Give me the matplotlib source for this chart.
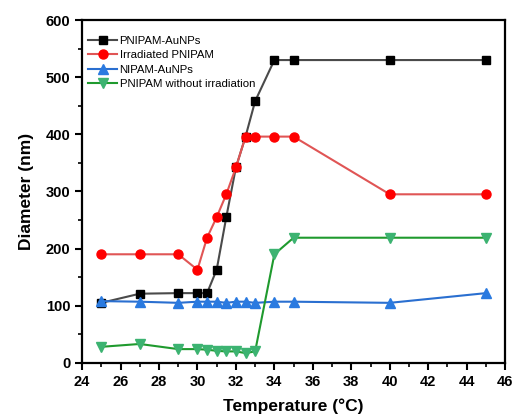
import matplotlib
matplotlib.use("Agg")
import matplotlib.pyplot as plt
from matplotlib.ticker import MultipleLocator

plt.rcParams['font.family'] = ['Liberation Sans', 'DejaVu Sans']

temp = [25, 27, 29, 30, 30.5, 31, 31.5, 32, 32.5, 33, 34, 35, 40, 45]
pnipam_aunps = [105, 121, 122, 122, 122, 163, 255, 342, 396, 458, 530, 530, 530, 530]
irradiated = [190, 190, 190, 163, 219, 255, 295, 342, 396, 396, 396, 396, 295, 295]
nipam_aunps = [108, 107, 105, 107, 107, 107, 105, 107, 107, 105, 107, 107, 105, 122]
no_irrad = [28, 33, 24, 24, 23, 21, 20, 20, 17, 20, 190, 219, 219, 219]

fig = plt.figure(figsize=(5.16, 4.18), dpi=100)
ax = fig.add_axes([0.159, 0.132, 0.820, 0.820])

ax.plot(temp, pnipam_aunps, color='#4a4a4a', lw=1.5, marker='s', ms=6,
        mfc='black', mec='black', label='PNIPAM-AuNPs')
ax.plot(temp, irradiated, color='#e05555', lw=1.5, marker='o', ms=6.5,
        mfc='#ff0000', mec='#ff0000', label='Irradiated PNIPAM')
ax.plot(temp, nipam_aunps, color='#2a6fd0', lw=1.5, marker='^', ms=6.5,
        mfc='#2a7ae0', mec='#2a7ae0', label='NIPAM-AuNPs')
ax.plot(temp, no_irrad, color='#1f9a2e', lw=1.5, marker='v', ms=6.5,
        mfc='#3cb371', mec='#3cb371', label='PNIPAM without irradiation')

ax.set_xlim(24, 46)
ax.set_ylim(0, 600)
ax.xaxis.set_major_locator(MultipleLocator(2))
ax.xaxis.set_minor_locator(MultipleLocator(1))
ax.yaxis.set_major_locator(MultipleLocator(100))
ax.yaxis.set_minor_locator(MultipleLocator(50))
ax.tick_params(which='major', direction='out', length=5, width=1.5, labelsize=10.5)
ax.tick_params(which='minor', direction='out', length=3, width=1.2)
for lab in ax.get_xticklabels() + ax.get_yticklabels():
    lab.set_fontweight('bold')
for s in ax.spines.values():
    s.set_linewidth(1.6)

ax.set_xlabel('Temperature (°C)', fontsize=12.5, fontweight='bold', labelpad=7)
ax.set_ylabel('Diameter (nm)', fontsize=12.5, fontweight='bold', labelpad=8)

ax.legend(loc='upper left', bbox_to_anchor=(0.008, 0.96), frameon=False,
          fontsize=8.2, handlelength=2.6, borderaxespad=0, labelspacing=0.38,
          handletextpad=0.2, borderpad=0.2)

fig.savefig('out.png', dpi=100)
